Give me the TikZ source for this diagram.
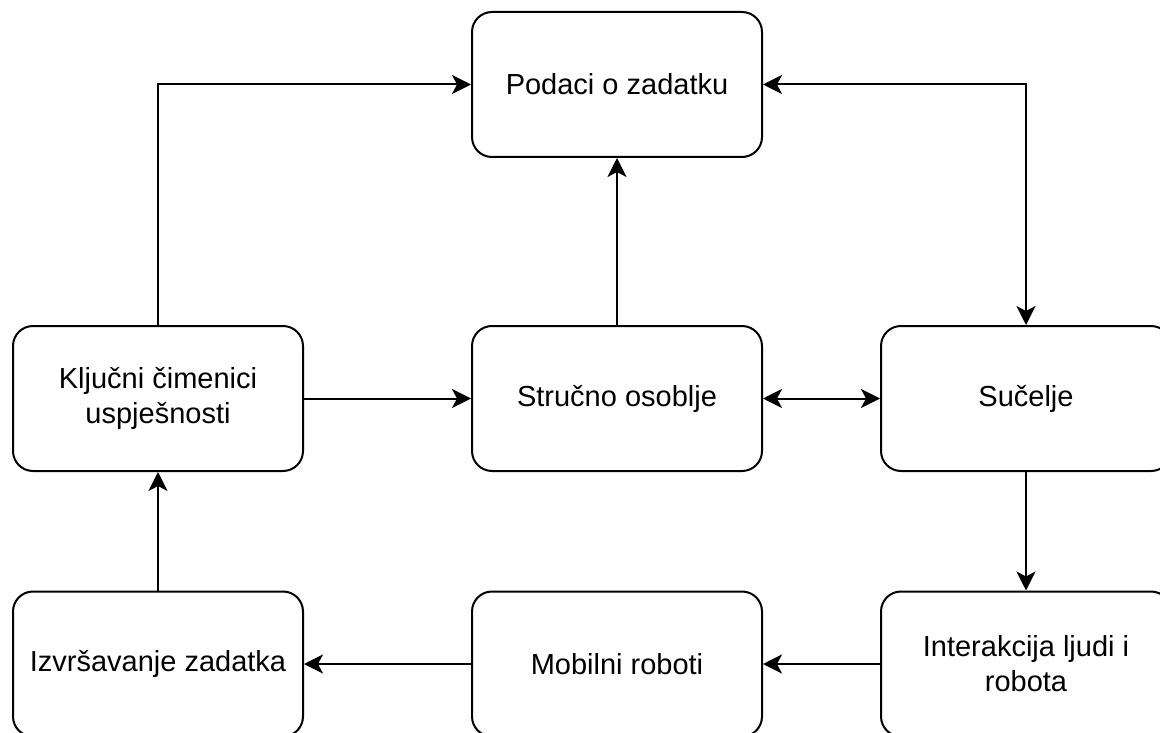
\documentclass[tikz,border=0pt]{standalone}
\usepackage{fontspec}
\setmainfont{Liberation Sans}
\usetikzlibrary{arrows.meta}
\usetikzlibrary{positioning}

\begin{document}
\begin{tikzpicture}[x=1pt, y=-1pt, line width=2pt,
    box/.style={draw, rectangle, rounded corners=20pt, minimum width=290pt, minimum height=145pt, inner sep=0pt, align=center, font=\fontsize{29}{35}\selectfont},
    >={Stealth[length=19pt, width=19pt, inset=5pt]}]
            \clip (0,0) rectangle (1160,733);
            \node[box] (podaci) at (617,84.5) {Podaci o zadatku};
            \node[box] (kljucni) at (158,398.5) {Ključni čimenici\\uspješnosti};
            \node[box] (strucno) at (617,398.5) {Stručno osoblje};
            \node[box] (sucelje) at (1026,398.5) {Sučelje};
            \node[box] (izvrsavanje) at (158,664) {Izvršavanje zadatka};
            \node[box] (mobilni) at (617,664) {Mobilni roboti};
            \node[box] (interakcija) at (1026,664) {Interakcija ljudi i\\robota};
            
            \draw[->] (kljucni.north) |- (podaci.west);
            \draw[->] (strucno.north) -- (podaci.south);
            \draw[<->] (podaci.east) -| (sucelje.north);
            \draw[->] (kljucni.east) -- (strucno.west);
            \draw[<->] (strucno.east) -- (sucelje.west);
            \draw[->] (sucelje.south) -- (interakcija.north);
            \draw[->] (interakcija.west) -- (mobilni.east);
            \draw[->] (mobilni.west) -- (izvrsavanje.east);
            \draw[->] (izvrsavanje.north) -- (kljucni.south);
        \end{tikzpicture}
\end{document}
